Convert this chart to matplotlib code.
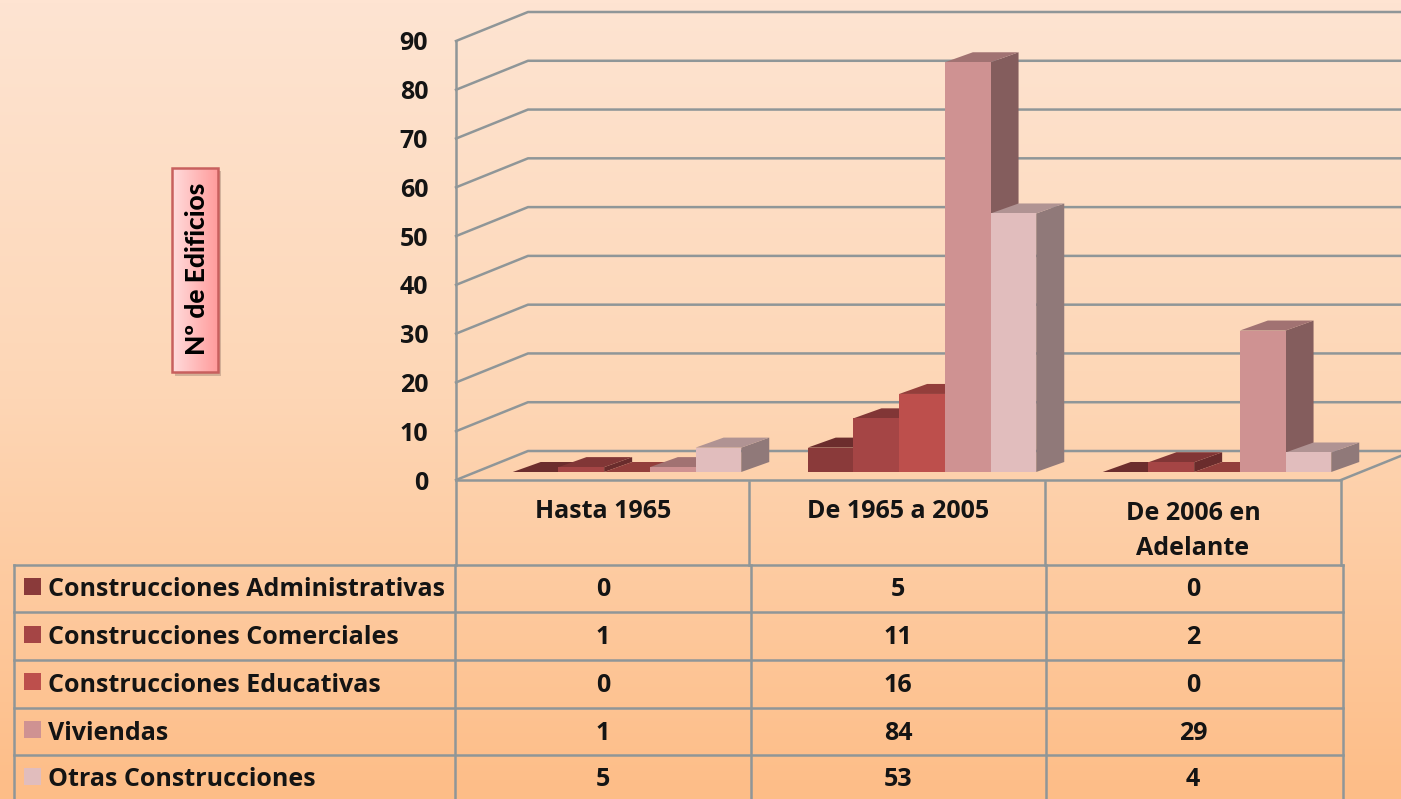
import matplotlib
matplotlib.use('Agg')
import matplotlib.pyplot as plt
import numpy as np
from matplotlib.colors import LinearSegmentedColormap, to_rgb
from matplotlib.patches import Polygon, Rectangle

categories = ['Hasta 1965', 'De 1965 a 2005', 'De 2006 en\nAdelante']
series_names = ['Construcciones Administrativas', 'Construcciones Comerciales',
                'Construcciones Educativas', 'Viviendas', 'Otras Construcciones']
administrativas = [0, 5, 0]
comerciales = [1, 11, 2]
educativas = [0, 16, 0]
viviendas = [1, 84, 29]
otras = [5, 53, 4]
series_values = [administrativas, comerciales, educativas, viviendas, otras]
y_ticks = list(range(0, 100, 10))

colors = ['#8A3A3A', '#A54545', '#BD4F4C', '#CF9292', '#E1BDBD']
grid_color = '#8F9698'
text_color = '#141414'
font = 'Open Sans'
font_size = 18
W, H = 1401, 799

# plot area in pixels
left, right, y_base, y_top = 456, 1341, 480, 41
px_x = (right - left) / len(categories)
px_y = (y_base - y_top) / 90
wall_dx, wall_dy = 72 / px_x, 29 / px_y
bar_w = 45.7 / px_x
bar_dx0, bar_dy0 = 23.5 / px_x, 8 / px_y
bar_dx, bar_dy = 28 / px_x, 10 / px_y


def shade(color, k):
    return tuple(c * k for c in to_rgb(color))


def draw_bar(ax, x, value, color, z):
    x0 = x + bar_dx0
    x1 = x0 + bar_w
    y0 = bar_dy0
    y1 = y0 + value
    ax.add_patch(Polygon([(x1, y0), (x1 + bar_dx, y0 + bar_dy), (x1 + bar_dx, y1 + bar_dy), (x1, y1)],
                         fc=shade(color, 0.64), ec='none', zorder=z, clip_on=False))
    ax.add_patch(Polygon([(x0, y1), (x1, y1), (x1 + bar_dx, y1 + bar_dy), (x0 + bar_dx, y1 + bar_dy)],
                         fc=shade(color, 0.78), ec='none', zorder=z, clip_on=False))
    if value > 0:
        ax.add_patch(Rectangle((x0, y0), bar_w, value, fc=color, ec='none', zorder=z, clip_on=False))


fig = plt.figure(figsize=(W / 100, H / 100), dpi=100)

# background and table share a pixel axes
bg = fig.add_axes([0, 0, 1, 1])
bg.set_xlim(0, W)
bg.set_ylim(H, 0)
bg.axis('off')
cmap = LinearSegmentedColormap.from_list('bg', ['#FEE4D2', '#FDD6B5', '#FDBD87'])
bg.imshow(np.linspace(0, 1, 256).reshape(-1, 1), cmap=cmap, extent=[0, W, H, 0], aspect='auto')

lw = 1.8
for x in [456, 749, 1045, 1341]:
    bg.plot([x, x], [482, 565], color=grid_color, lw=lw)
for y in [565, 612, 660, 708, 755]:
    bg.plot([14, 1343], [y, y], color=grid_color, lw=lw)
for x in [14, 455, 751, 1046, 1343]:
    bg.plot([x, x], [565, H], color=grid_color, lw=lw)

col_x = [603, 898, 1193]
row_y = [588, 636, 683, 731, 778]
for i, name in enumerate(series_names):
    bg.add_patch(Rectangle((24, row_y[i] - 10), 17, 17, fc=colors[i], ec='none'))
    bg.text(48, row_y[i] + 2, name, family=font, weight='bold', fontsize=font_size, va='center', ha='left',
            color=text_color)
    for j in range(3):
        bg.text(col_x[j], row_y[i] + 2, str(series_values[i][j]), family=font, weight='bold', fontsize=font_size,
                va='center', ha='center', color=text_color)
for j, cat in enumerate(categories):
    bg.text(col_x[j], 512 if '\n' not in cat else 531, cat, family=font, weight='bold', fontsize=font_size,
            va='center', ha='center', color=text_color, linespacing=1.55)

# axis title box
box_cmap = LinearSegmentedColormap.from_list('box', ['#FFDCDC', '#FF9C9C'])
bg.add_patch(Rectangle((175, 171), 46, 205, fc='#A08070', ec='none', alpha=0.45, zorder=1))
bg.imshow(np.linspace(0, 1, 64).reshape(1, -1), cmap=box_cmap, extent=[172, 218, 372, 168], aspect='auto', zorder=2)
bg.add_patch(Rectangle((172, 168), 46, 204, fc='none', ec='#C8605E', lw=1.8, zorder=3))
bg.text(197, 269, 'Nº de Edificios', family='Lato', weight='black', fontsize=19, rotation=90,
        va='center', ha='center', color='black', zorder=4)
bg.set_xlim(0, W)
bg.set_ylim(H, 0)

# chart
ax = fig.add_axes([left / W, 1 - y_base / H, (right - left) / W, (y_base - y_top) / H])
ax.patch.set_alpha(0)
ax.set_xlim(0, len(categories))
ax.set_ylim(0, 90)
ax.set_xticks([])
ax.set_yticks(y_ticks)
ax.tick_params(axis='y', length=0, pad=20)
for t in ax.get_yticklabels():
    t.set_family(font)
    t.set_fontweight('bold')
    t.set_fontsize(font_size)
    t.set_color(text_color)
for s in ['top', 'right', 'bottom']:
    ax.spines[s].set_visible(False)
ax.spines['left'].set_color(grid_color)
ax.spines['left'].set_linewidth(lw)

x_edge = (W - left) / px_x + 1
for v in y_ticks:
    ax.plot([0, wall_dx, x_edge], [v, v + wall_dy, v + wall_dy], color=grid_color, lw=lw, zorder=1,
            clip_on=False)
ax.plot([0, 3], [0, 0], color=grid_color, lw=lw, zorder=2, clip_on=False)
ax.plot([3, 3 + wall_dx], [0, wall_dy], color=grid_color, lw=lw, zorder=2, clip_on=False)

for j in range(len(categories)):
    for i in range(len(series_names)):
        x = j + i * bar_w + (1 - 5 * bar_w) / 2
        draw_bar(ax, x, series_values[i][j], colors[i], 3 + i)

fig.savefig('out.png', dpi=100)
